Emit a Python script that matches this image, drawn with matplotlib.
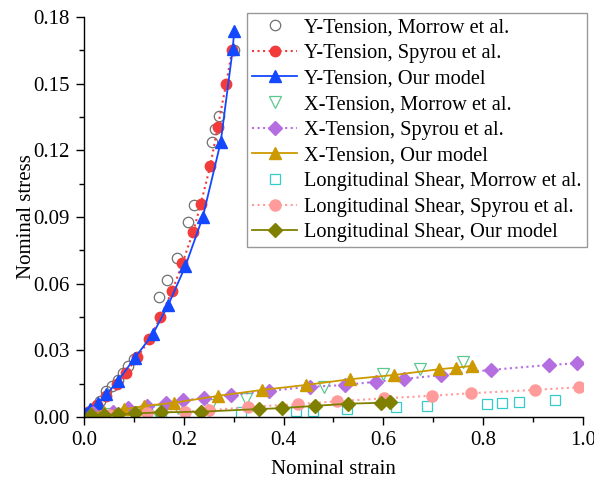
import matplotlib
matplotlib.use("Agg")
import matplotlib.pyplot as plt
from matplotlib.ticker import MultipleLocator, FormatStrFormatter

plt.rcParams['font.family'] = ['Liberation Serif', 'DejaVu Serif']

# Y-Tension
yt_morrow_x = [0.02, 0.032, 0.045, 0.057, 0.069, 0.078, 0.088, 0.100, 0.151, 0.166, 0.186, 0.209, 0.221, 0.256, 0.262, 0.270, 0.300]
yt_morrow_y = [0.004, 0.0072, 0.0117, 0.014, 0.0165, 0.020, 0.023, 0.0262, 0.0538, 0.0618, 0.0714, 0.0879, 0.0955, 0.1237, 0.1297, 0.1353, 0.165]
yt_spyrou_x = [0.012, 0.026, 0.045, 0.067, 0.084, 0.107, 0.131, 0.153, 0.177, 0.197, 0.219, 0.234, 0.253, 0.268, 0.285, 0.297]
yt_spyrou_y = [0.0027, 0.0054, 0.0095, 0.015, 0.020, 0.0268, 0.035, 0.0448, 0.0568, 0.0691, 0.0834, 0.0959, 0.1129, 0.1305, 0.150, 0.1651]
yt_model_x = [0.004, 0.012, 0.029, 0.045, 0.068, 0.102, 0.138, 0.169, 0.203, 0.238, 0.274, 0.298, 0.301]
yt_model_y = [0.0019, 0.0035, 0.0065, 0.0102, 0.0162, 0.0267, 0.0373, 0.0505, 0.0678, 0.0899, 0.1237, 0.1654, 0.1738]

# X-Tension
xt_morrow_x = [0.05, 0.10, 0.145, 0.188, 0.255, 0.324, 0.481, 0.599, 0.673, 0.759]
xt_morrow_y = [0.0012, 0.002, 0.0028, 0.0039, 0.0054, 0.008, 0.0134, 0.0194, 0.0215, 0.0246]
xt_spyrou_x = [0.018, 0.058, 0.088, 0.127, 0.165, 0.198, 0.241, 0.295, 0.371, 0.453, 0.523, 0.585, 0.641, 0.716, 0.815, 0.931, 0.988]
xt_spyrou_y = [0.0016, 0.0024, 0.0039, 0.005, 0.0062, 0.0075, 0.0085, 0.0099, 0.0118, 0.0136, 0.0144, 0.0159, 0.0171, 0.0189, 0.0212, 0.0234, 0.0242]
xt_model_x = [0.015, 0.041, 0.081, 0.121, 0.180, 0.268, 0.357, 0.444, 0.533, 0.621, 0.711, 0.745, 0.778]
xt_model_y = [0.0017, 0.0024, 0.0035, 0.005, 0.0064, 0.0095, 0.0122, 0.0144, 0.0170, 0.0189, 0.0215, 0.0222, 0.0230]

# Longitudinal shear
ls_morrow_x = [0.155, 0.240, 0.315, 0.425, 0.459, 0.528, 0.625, 0.688, 0.807, 0.837, 0.871, 0.943]
ls_morrow_y = [0.0009, 0.0018, 0.0022, 0.0028, 0.0028, 0.0036, 0.0046, 0.0051, 0.0059, 0.0062, 0.0068, 0.0075]
ls_spyrou_x = [0.051, 0.127, 0.203, 0.251, 0.328, 0.429, 0.507, 0.601, 0.698, 0.775, 0.903, 0.993]
ls_spyrou_y = [0.0009, 0.0020, 0.0024, 0.0030, 0.0045, 0.0058, 0.0071, 0.0084, 0.0096, 0.0107, 0.0122, 0.0134]
ls_model_x = [0.015, 0.041, 0.068, 0.103, 0.155, 0.235, 0.351, 0.396, 0.462, 0.529, 0.596, 0.613]
ls_model_y = [0.0008, 0.0008, 0.0012, 0.0016, 0.0021, 0.0024, 0.0036, 0.004, 0.005, 0.006, 0.0064, 0.0069]

fig = plt.figure(figsize=(5.94, 4.83), dpi=100)
ax = fig.add_axes([0.1414, 0.1366, 0.840, 0.8282])

ms = 7.5
ax.plot(yt_morrow_x, yt_morrow_y, 'o', mfc='none', mec='#707070', mew=0.9, ms=ms,
        label='Y-Tension, Morrow et al.')
ax.plot(yt_spyrou_x, yt_spyrou_y, ':', marker='o', color='#F23B3B', lw=1.5, ms=ms,
        label='Y-Tension, Spyrou et al.')
ax.plot(yt_model_x, yt_model_y, '-', marker='^', color='#1448FF', lw=1.3, ms=ms + 1,
        label='Y-Tension, Our model')
ax.plot(xt_morrow_x, xt_morrow_y, 'v', mfc='none', mec='#5CC890', mew=0.9, ms=ms + 1,
        label='X-Tension, Morrow et al.')
ax.plot(xt_spyrou_x, xt_spyrou_y, ':', marker='D', color='#B46EE0', lw=1.5, ms=ms - 0.5,
        label='X-Tension, Spyrou et al.')
ax.plot(xt_model_x, xt_model_y, '-', marker='^', color='#CC9A00', lw=1.3, ms=ms + 1,
        label='X-Tension, Our model')
ax.plot(ls_morrow_x, ls_morrow_y, 's', mfc='none', mec='#33CCCC', mew=0.9, ms=ms - 0.5,
        label='Longitudinal Shear, Morrow et al.')
ax.plot(ls_spyrou_x, ls_spyrou_y, ':', marker='o', color='#FF9B9B', lw=1.5, ms=ms + 0.5,
        label='Longitudinal Shear, Spyrou et al.')
ax.plot(ls_model_x, ls_model_y, '-', marker='D', color='#808000', lw=1.3, ms=ms - 0.5,
        label='Longitudinal Shear, Our model')

ax.set_xlim(0, 1.0)
ax.set_ylim(0, 0.18)
ax.xaxis.set_major_locator(MultipleLocator(0.2))
ax.xaxis.set_minor_locator(MultipleLocator(0.1))
ax.yaxis.set_major_locator(MultipleLocator(0.03))
ax.yaxis.set_minor_locator(MultipleLocator(0.015))
ax.xaxis.set_major_formatter(FormatStrFormatter('%.1f'))
ax.yaxis.set_major_formatter(FormatStrFormatter('%.2f'))

ax.spines['top'].set_visible(False)
ax.spines['right'].set_visible(False)
for s in ['left', 'bottom']:
    ax.spines[s].set_linewidth(1.0)
ax.tick_params(which='major', direction='out', length=6, width=1.0, labelsize=15, pad=4)
ax.tick_params(which='minor', direction='out', length=3.5, width=1.0)

ax.set_xlabel('Nominal strain', fontsize=15, labelpad=7)
ax.set_ylabel('Nominal stress', fontsize=15, labelpad=-2)

leg = ax.legend(loc='upper right', bbox_to_anchor=(1.008, 1.01), fontsize=14.7,
                frameon=True, fancybox=False, edgecolor='#808080',
                handlelength=2.2, handletextpad=0.35, borderpad=0.25,
                labelspacing=0.31, borderaxespad=0.0)
leg.get_frame().set_linewidth(1.0)

fig.savefig('out.png', dpi=100)
